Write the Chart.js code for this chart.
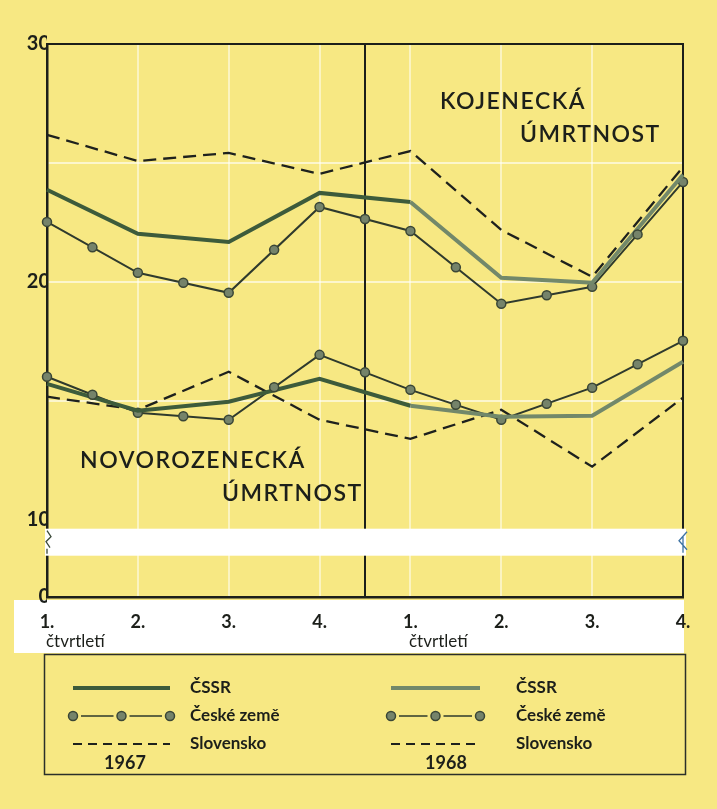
<!DOCTYPE html>
<html>
<head>
<meta charset="utf-8">
<script src="https://cdn.jsdelivr.net/npm/chart.js@4"></script>
<style>
    html, body { margin: 0; padding: 0; background: #f7e883; }
    #wrap { width: 717px; height: 809px; position: relative; }
</style>
</head>
<body>
<div id="wrap"><canvas id="mortalityChart" width="717" height="809"></canvas></div>
<script>
// --- data (per 1000 live births) ---
const quarters = ['1.', '2.', '3.', '4.', '1.', '2.', '3.', '4.'];
const years = ['1967', '1968'];
const yTickValues = [0, 10, 20, 30];
const axisFloor = 6.75;   // broken axis: "0" sits here

const infantCSSR      = [23.87, 22.02, 21.68, 23.74, 23.36, 20.17, 19.96, 24.5];
const infantCeske     = [22.52, 20.38, 19.54, 23.15, 22.14, 19.08, 19.79, 24.2];
const infantSlovensko = [26.18, 25.08, 25.42, 24.54, 25.5, 22.18, 20.21, 24.83];

const neoCSSR      = [15.71, 14.58, 14.96, 15.92, 14.79, 14.33, 14.37, 16.64];
const neoCeske     = [16.01, 14.5, 14.2, 16.93, 15.46, 14.2, 15.55, 17.52];
const neoSlovensko = [15.17, 14.62, 16.22, 14.2, 13.4, 14.62, 12.23, 15.13];

const seriesNames = ['ČSSR', 'České země', 'Slovensko'];

// --- styles ---
const YELLOW = '#f7e883';
const DARK_GREEN = '#3d5b3b';
const LIGHT_GREEN = '#72886a';
const INK = '#1c1f1a';
const DOT_FILL = '#75836a';
const DOT_EDGE = '#3a4636';
const FONT = 'Lato, "Open Sans", sans-serif';

function cssrLine(label, data) {
    return {
        label, data,
        borderColor: DARK_GREEN,
        borderWidth: 4,
        pointRadius: 0,
        tension: 0,
        clip: false,
        segment: { borderColor: c => c.p0DataIndex >= 4 ? LIGHT_GREEN : DARK_GREEN }
    };
}
function ceskeLine(label, data) {
    return {
        label, data,
        borderColor: '#2f3a2d',
        borderWidth: 2,
        pointRadius: 4.5,
        pointBackgroundColor: DOT_FILL,
        pointBorderColor: DOT_EDGE,
        pointBorderWidth: 1.5,
        tension: 0,
        clip: false,
        midDots: true
    };
}
function slovLine(label, data) {
    return {
        label, data,
        borderColor: '#1e211d',
        borderWidth: 2.3,
        borderDash: [13, 7],
        pointRadius: 0,
        tension: 0,
        clip: false
    };
}

function drawDot(ctx, x, y) {
    ctx.beginPath();
    ctx.arc(x, y, 4.5, 0, Math.PI * 2);
    ctx.fillStyle = DOT_FILL;
    ctx.fill();
    ctx.lineWidth = 1.5;
    ctx.strokeStyle = DOT_EDGE;
    ctx.stroke();
}

// white strip under the x axis (drawn before the scales)
const paperPlugin = {
    id: 'paper',
    beforeDraw(chart) {
        const ctx = chart.ctx, a = chart.chartArea;
        ctx.save();
        ctx.fillStyle = '#ffffff';
        ctx.fillRect(14, a.bottom + 3, a.right + 1 - 14, 653 - a.bottom - 3);
        ctx.restore();
    }
};

// frame, year divider and the axis break
const framePlugin = {
    id: 'frame',
    beforeDatasetsDraw(chart) {
        const ctx = chart.ctx, a = chart.chartArea;
        const x = chart.scales.x, y = chart.scales.y;
        ctx.save();
        ctx.strokeStyle = INK;
        ctx.lineWidth = 2;
        ctx.beginPath();
        ctx.moveTo(a.left, a.top); ctx.lineTo(a.right, a.top); ctx.lineTo(a.right, a.bottom);
        const mid = (x.getPixelForValue(3) + x.getPixelForValue(4)) / 2;
        ctx.moveTo(mid, a.top); ctx.lineTo(mid, a.bottom);
        ctx.stroke();

        // axis break band just below 10
        const bandTop = y.getPixelForValue(10) + 9;
        ctx.fillStyle = '#ffffff';
        ctx.fillRect(a.left - 2, bandTop, a.right - a.left + 5, 27);

        ctx.lineWidth = 1.3;
        ctx.strokeStyle = '#3b4a3a';
        ctx.beginPath();
        ctx.moveTo(a.left, bandTop + 2); ctx.lineTo(a.left + 4, bandTop + 8);
        ctx.lineTo(a.left - 1, bandTop + 13); ctx.lineTo(a.left + 3, bandTop + 19);
        ctx.moveTo(a.left, bandTop + 20); ctx.lineTo(a.left, bandTop + 25);
        ctx.stroke();
        ctx.strokeStyle = '#3d72a3';
        ctx.beginPath();
        ctx.moveTo(a.right + 4, bandTop + 3); ctx.lineTo(a.right - 4, bandTop + 12);
        ctx.lineTo(a.right + 4, bandTop + 21);
        ctx.moveTo(a.right, bandTop + 8); ctx.lineTo(a.right, bandTop + 24);
        ctx.stroke();

        // section titles
        ctx.fillStyle = INK;
        ctx.font = '600 23px ' + FONT;
        ctx.letterSpacing = '1.5px';
        ctx.textBaseline = 'middle';
        ctx.textAlign = 'left';
        ctx.fillText('KOJENECKÁ', 440, 102);
        ctx.fillText('ÚMRTNOST', 520, 135);
        ctx.fillText('NOVOROZENECKÁ', 80, 461);
        ctx.fillText('ÚMRTNOST', 222, 494);
        ctx.letterSpacing = '0px';
        ctx.restore();
    },
    afterDatasetsDraw(chart) {
        const ctx = chart.ctx;
        ctx.save();
        chart.data.datasets.forEach((ds, i) => {
            if (!ds.midDots) return;
            const pts = chart.getDatasetMeta(i).data;
            for (let k = 0; k < pts.length - 1; k++) {
                drawDot(ctx, (pts[k].x + pts[k + 1].x) / 2, (pts[k].y + pts[k + 1].y) / 2);
            }
        });
        ctx.restore();
    }
};

// quarter captions and the boxed legend
const legendPlugin = {
    id: 'boxLegend',
    afterDraw(chart) {
        const ctx = chart.ctx;
        ctx.save();
        ctx.fillStyle = INK;
        ctx.textBaseline = 'middle';
        ctx.textAlign = 'left';
        ctx.font = '17px ' + FONT;
        ctx.fillText('čtvrtletí', 46, 642);
        ctx.fillText('čtvrtletí', 409, 642);

        ctx.strokeStyle = '#2b2f2a';
        ctx.lineWidth = 1.5;
        ctx.strokeRect(44.5, 654.5, 641, 120);

        const cols = [{ x0: 73, x1: 170, tx: 190, yc: 125, year: years[0], col: DARK_GREEN },
                      { x0: 391, x1: 480, tx: 516, yc: 446, year: years[1], col: LIGHT_GREEN }];
        const rows = [688, 716, 744];
        cols.forEach(c => {
            // ČSSR
            ctx.strokeStyle = c.col; ctx.lineWidth = 4; ctx.setLineDash([]);
            ctx.beginPath(); ctx.moveTo(c.x0, rows[0]); ctx.lineTo(c.x1, rows[0]); ctx.stroke();
            // České země
            const xm = (c.x0 + c.x1) / 2;
            ctx.strokeStyle = '#2f3a2d'; ctx.lineWidth = 1.5;
            ctx.beginPath();
            ctx.moveTo(c.x0 + 8, rows[1]); ctx.lineTo(xm - 8, rows[1]);
            ctx.moveTo(xm + 8, rows[1]); ctx.lineTo(c.x1 - 8, rows[1]);
            ctx.stroke();
            [c.x0, xm, c.x1].forEach(px => drawDot(ctx, px, rows[1]));
            // Slovensko
            ctx.strokeStyle = '#1e211d'; ctx.lineWidth = 2; ctx.setLineDash([9, 6]);
            ctx.beginPath(); ctx.moveTo(c.x0, rows[2]); ctx.lineTo(c.x1, rows[2]); ctx.stroke();
            ctx.setLineDash([]);

            ctx.fillStyle = INK;
            ctx.font = 'bold 17px ' + FONT;
            ctx.textAlign = 'left';
            seriesNames.forEach((n, i) => ctx.fillText(n, c.tx, rows[i]));
            ctx.textAlign = 'center';
            ctx.font = 'bold 18px ' + FONT;
            ctx.fillText(c.year, c.yc, 763);
        });
        ctx.restore();
    }
};

const ctx = document.getElementById('mortalityChart').getContext('2d');
new Chart(ctx, {
    type: 'line',
    data: {
        labels: quarters,
        datasets: [
            cssrLine('ČSSR – kojenecká', infantCSSR),
            ceskeLine('České země – kojenecká', infantCeske),
            slovLine('Slovensko – kojenecká', infantSlovensko),
            cssrLine('ČSSR – novorozenecká', neoCSSR),
            ceskeLine('České země – novorozenecká', neoCeske),
            slovLine('Slovensko – novorozenecká', neoSlovensko)
        ]
    },
    options: {
        responsive: false,
        animation: false,
        layout: { padding: { top: 44, right: 34, bottom: 156, left: 0 } },
        plugins: { legend: { display: false }, tooltip: { enabled: false } },
        scales: {
            x: {
                offset: false,
                afterFit: s => { s.height = 56; },
                border: { display: true, color: INK, width: 2.5 },
                grid: {
                    drawTicks: false,
                    lineWidth: 2,
                    color: c => (c.index === 0 || c.index === quarters.length - 1) ? 'transparent' : 'rgba(255,255,255,0.5)'
                },
                ticks: {
                    padding: 14,
                    maxRotation: 0,
                    autoSkip: false,
                    color: INK,
                    font: { family: FONT, size: 18, weight: 'bold' }
                }
            },
            y: {
                min: axisFloor,
                max: 30,
                afterFit: s => { s.width = 47; },
                afterBuildTicks: s => {
                    s.ticks = [axisFloor, 10, 15, 20, 25, 30].map(v => ({ value: v }));
                },
                border: { display: true, color: INK, width: 2.5 },
                grid: {
                    drawTicks: false,
                    lineWidth: 2,
                    color: c => [15, 20, 25].includes(c.tick.value) ? 'rgba(255,255,255,0.6)' : 'transparent'
                },
                ticks: {
                    padding: -3,
                    color: INK,
                    font: { family: FONT, size: 20, weight: 'bold' },
                    callback: v => v === axisFloor ? String(yTickValues[0]) : (yTickValues.includes(v) ? String(v) : '')
                }
            }
        }
    },
    plugins: [paperPlugin, framePlugin, legendPlugin]
});
</script>
</body>
</html>
